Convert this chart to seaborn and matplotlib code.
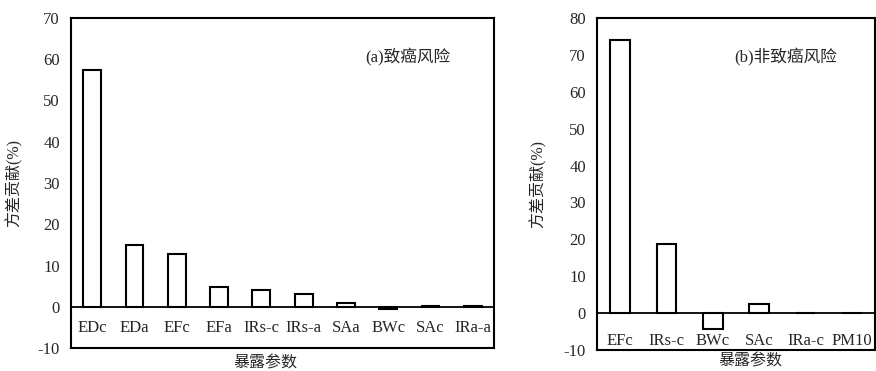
import seaborn as sns
import matplotlib.pyplot as plt

# (a) carcinogenic risk
params_a = ["EDc", "EDa", "EFc", "EFa", "IRs-c", "IRs-a", "SAa", "BWc", "SAc", "IRa-a"]
contrib_a = [57.5, 15.0, 12.9, 4.8, 4.0, 3.2, 1.0, -0.5, 0.3, 0.1]

# (b) non-carcinogenic risk
params_b = ["EFc", "IRs-c", "BWc", "SAc", "IRa-c", "PM10"]
contrib_b = [74.1, 18.8, -4.4, 2.4, 0.1, 0.1]

sns.set_style("white")
plt.rcParams["font.family"] = ["Liberation Serif", "Noto Sans CJK SC"]
plt.rcParams["font.size"] = 12
plt.rcParams["axes.unicode_minus"] = False

fig = plt.figure(figsize=(8.76, 3.71), dpi=100)
W, H = 876, 371
ax1 = fig.add_axes([71 / W, (H - 348) / H, 423 / W, 330 / H])
ax2 = fig.add_axes([597 / W, (H - 350) / H, 278 / W, 332 / H])

panels = [
    (ax1, params_a, contrib_a, (-10, 70), "(a)致癌风险", 0.695, -20, (0.46, -0.024), -0.115),
    (ax2, params_b, contrib_b, (-10, 80), "(b)非致癌风险", 0.495, -12, (0.55, -0.012), -0.18),
]

for ax, cats, vals, ylim, title, tx, pad, xl, yl in panels:
    sns.barplot(x=cats, y=vals, color="white", edgecolor="black",
                linewidth=1.5, width=0.42, saturation=1, ax=ax)
    ax.axhline(0, color="black", lw=1.3, zorder=0.5)
    ax.set_ylim(*ylim)
    ax.set_yticks(range(ylim[0], ylim[1] + 1, 10))
    for s in ax.spines.values():
        s.set_visible(True)
        s.set_color("black")
        s.set_linewidth(1.5)
    ax.tick_params(axis="x", length=0, pad=pad, labelsize=12)
    ax.tick_params(axis="y", direction="in", length=3, width=1, labelsize=12, pad=8)
    ax.set_xlabel("暴露参数", fontsize=11.5)
    ax.set_ylabel("方差贡献(%)", fontsize=11.5)
    ax.xaxis.set_label_coords(*xl)
    ax.yaxis.set_label_coords(yl, 0.5)
    ax.text(tx, 0.88, title, transform=ax.transAxes, fontsize=12, va="center", ha="left")

fig.savefig("out.png", dpi=100)
